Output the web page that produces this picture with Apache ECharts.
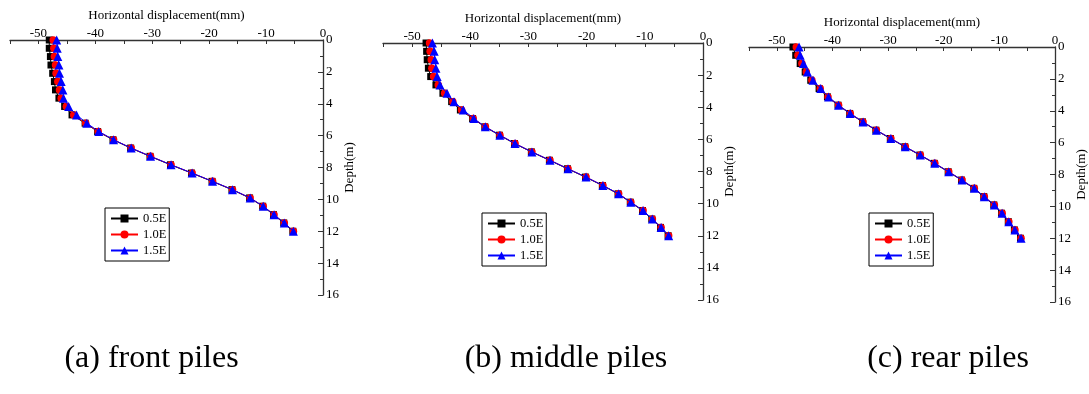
<!DOCTYPE html>
<html><head><meta charset="utf-8">
<script src="https://cdn.jsdelivr.net/npm/echarts@6/dist/echarts.min.js"></script>
<style>html,body{margin:0;padding:0;background:#fff}#c{width:1089px;height:394px}</style>
</head><body><div id="c"></div>
<script>
// ---- data ----
const depths = [0, 0.52, 1.04, 1.57, 2.09, 2.61, 3.13, 3.65, 4.17, 4.7, 5.22, 5.74, 6.26, 6.78, 7.3, 7.83, 8.35, 8.87, 9.39, 9.91, 10.43, 10.96, 11.48, 12];
const seriesNames = ['0.5E', '1.0E', '1.5E'];
const panelCaptions = ['(a) front piles', '(b) middle piles', '(c) rear piles'];
const xTickLabels = [-50, -40, -30, -20, -10, 0];
const xAxisTitle = 'Horizontal displacement(mm)';
const yAxisTitle = 'Depth(m)';

const front05 = [-48.1, -48.1, -47.9, -47.8, -47.5, -47.2, -47.0, -46.4, -45.4, -44.1, -41.8, -39.6, -36.9, -33.8, -30.4, -26.8, -23.1, -19.5, -16.0, -12.9, -10.6, -8.7, -6.9, -5.3];
const front10 = [-47.4, -47.3, -47.2, -47.0, -46.9, -46.6, -46.3, -46.0, -45.1, -43.8, -41.7, -39.5, -36.8, -33.7, -30.3, -26.7, -23.0, -19.4, -15.9, -12.8, -10.5, -8.6, -6.8, -5.2];
const front15 = [-46.8, -46.7, -46.6, -46.4, -46.3, -46.0, -45.7, -45.6, -44.7, -43.3, -41.5, -39.4, -36.8, -33.7, -30.3, -26.7, -23.0, -19.4, -15.9, -12.8, -10.5, -8.6, -6.8, -5.2];

const middle05 = [-47.6, -47.5, -47.4, -47.2, -46.8, -45.9, -44.7, -43.2, -41.7, -39.6, -37.5, -35.0, -32.4, -29.5, -26.4, -23.3, -20.2, -17.3, -14.6, -12.5, -10.4, -8.8, -7.3, -6.0];
const middle10 = [-47.0, -46.9, -46.7, -46.6, -46.3, -45.5, -44.4, -43.0, -41.5, -39.5, -37.4, -34.9, -32.3, -29.4, -26.3, -23.2, -20.1, -17.2, -14.5, -12.4, -10.3, -8.7, -7.2, -5.9];
const middle15 = [-46.5, -46.2, -46.1, -45.9, -45.7, -45.2, -44.0, -42.8, -41.2, -39.4, -37.4, -34.9, -32.3, -29.4, -26.3, -23.2, -20.1, -17.2, -14.5, -12.4, -10.3, -8.7, -7.2, -5.9];

const rear05 = [-47.1, -46.6, -45.8, -44.9, -43.9, -42.4, -40.9, -39.0, -36.9, -34.6, -32.2, -29.6, -27.0, -24.3, -21.7, -19.2, -16.8, -14.6, -12.8, -11.0, -9.6, -8.4, -7.3, -6.2];
const rear10 = [-46.5, -46.2, -45.5, -44.7, -43.7, -42.2, -40.8, -38.9, -36.8, -34.5, -32.1, -29.5, -26.9, -24.2, -21.6, -19.1, -16.7, -14.5, -12.7, -10.9, -9.5, -8.3, -7.2, -6.1];
const rear15 = [-46.0, -45.8, -45.2, -44.5, -43.5, -42.1, -40.7, -38.9, -36.8, -34.5, -32.1, -29.5, -26.9, -24.2, -21.6, -19.1, -16.7, -14.5, -12.7, -10.9, -9.5, -8.3, -7.2, -6.1];

// ---- layout / style ----
const FONT = '"Liberation Serif", "Times New Roman", serif';
const panels = [
  {vals: [front05, front10, front15], grid: {left: 10, top: 40, width: 313, height: 255}, legend: {left: 105, top: 208}, cap: [151.5, 359]},
  {vals: [middle05, middle10, middle15], grid: {left: 383, top: 43, width: 320, height: 257}, legend: {left: 482, top: 213}, cap: [566, 359]},
  {vals: [rear05, rear10, rear15], grid: {left: 749, top: 47, width: 312, height: 255}, legend: {left: 869, top: 213}, cap: [948, 359]}
];
const colors = ['#000000', '#ff0000', '#0000ff'];
const symbols = ['rect', 'circle', 'triangle'];
const symbolSizes = [7, 7.5, 9];
const axisColor = '#333';

const option = {
  animation: false,
  backgroundColor: '#fff',
  grid: panels.map(p => Object.assign({containLabel: false}, p.grid)),
  xAxis: panels.map((p, i) => ({
    type: 'value', gridIndex: i, position: 'top', min: -55, max: 0, interval: 5,
    name: xAxisTitle, nameLocation: 'middle', nameGap: 12,
    nameTextStyle: {fontFamily: FONT, fontSize: 13, color: '#000'},
    axisLine: {show: true, onZero: false, lineStyle: {color: axisColor, width: 1.3}},
    axisTick: {show: true, inside: true, length: 4, lineStyle: {color: axisColor, width: 1}},
    axisLabel: {margin: 0, fontFamily: FONT, fontSize: 13, color: '#000',
      formatter: v => xTickLabels.indexOf(v) >= 0 ? String(v) : ''},
    splitLine: {show: false}
  })),
  yAxis: panels.map((p, i) => ({
    type: 'value', gridIndex: i, position: 'right', inverse: true, min: 0, max: 16, interval: 2,
    name: yAxisTitle, nameLocation: 'middle', nameGap: 20, nameRotate: 90,
    nameTextStyle: {fontFamily: FONT, fontSize: 13, color: '#000'},
    axisLine: {show: true, onZero: false, lineStyle: {color: axisColor, width: 1.3}},
    axisTick: {show: true, inside: true, length: 5, lineStyle: {color: axisColor, width: 1}},
    minorTick: {show: true, splitNumber: 2, length: 3, lineStyle: {color: axisColor, width: 1}},
    axisLabel: {margin: 3, fontFamily: FONT, fontSize: 13, color: '#000'},
    splitLine: {show: false}, minorSplitLine: {show: false}
  })),
  legend: panels.map(p => ({
    data: seriesNames, orient: 'vertical', left: p.legend.left, top: p.legend.top,
    itemWidth: 27, itemHeight: 10, itemGap: 3, padding: [4, 3, 4, 5],
    borderColor: '#000', borderWidth: 1, backgroundColor: '#fff',
    selectedMode: false,
    textStyle: {fontFamily: FONT, fontSize: 12.5, color: '#000', lineHeight: 13}
  })),
  series: [],
  graphic: panels.map((p, i) => ({
    type: 'text', x: p.cap[0], y: p.cap[1],
    style: {text: panelCaptions[i], font: '32px ' + FONT, fill: '#000', align: 'center', verticalAlign: 'middle'}
  }))
};

panels.forEach((p, i) => {
  p.vals.forEach((vals, s) => {
    option.series.push({
      type: 'line', name: seriesNames[s], xAxisIndex: i, yAxisIndex: i,
      data: depths.map((d, k) => [vals[k], d]),
      symbol: symbols[s], symbolSize: symbolSizes[s], showAllSymbol: true,
      lineStyle: {color: colors[s], width: 1},
      itemStyle: {color: colors[s]},
      z: 2 + s
    });
  });
});

const chart = echarts.init(document.getElementById('c'), null, {renderer: 'canvas'});
chart.setOption(option);
</script>
</body></html>
